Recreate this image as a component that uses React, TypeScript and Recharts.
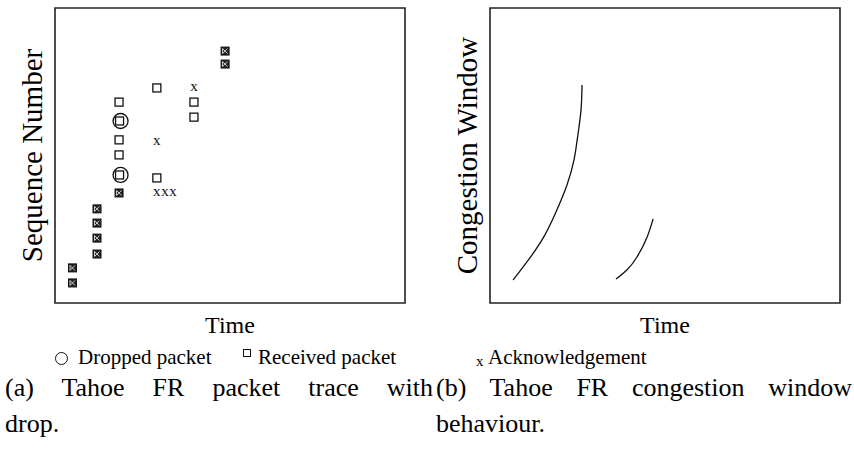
import React from 'react';
import {
  ScatterChart,
  Scatter,
  LineChart,
  Line,
  XAxis,
  YAxis,
  ReferenceArea,
} from 'recharts';

const SERIF = '"Liberation Serif", "Times New Roman", serif';

// (a) packet trace: time vs sequence number (both in arbitrary 0-100 units)
const ackedPackets = [
  { t: 5, seq: 6.8 },
  { t: 5, seq: 11.9 },
  { t: 12, seq: 16.6 },
  { t: 12, seq: 22 },
  { t: 12, seq: 27.1 },
  { t: 12, seq: 31.9 },
  { t: 18.3, seq: 37.3 },
  { t: 48.6, seq: 81 },
  { t: 48.6, seq: 85.4 },
];

const receivedPackets = [
  { t: 18.3, seq: 50.2 },
  { t: 18.3, seq: 55.3 },
  { t: 18.3, seq: 68.1 },
  { t: 29.1, seq: 42.4 },
  { t: 29.1, seq: 72.9 },
  { t: 39.7, seq: 63 },
  { t: 39.7, seq: 68.1 },
];

const droppedPackets = [
  { t: 18.3, seq: 43.4 },
  { t: 18.3, seq: 61.7 },
];

const acks = [
  { t: 29.1, seq: 37.3 },
  { t: 31.4, seq: 37.3 },
  { t: 33.7, seq: 37.3 },
  { t: 29.1, seq: 54.9 },
  { t: 39.7, seq: 72.9 },
];

// (b) congestion window: two growth phases
const cwndFirst = [
  { t: 6.6, w: 7.8 },
  { t: 11.4, w: 15.3 },
  { t: 15.7, w: 23.1 },
  { t: 19.1, w: 31.5 },
  { t: 22, w: 40 },
  { t: 24, w: 48.5 },
  { t: 25.1, w: 56.9 },
  { t: 26, w: 65.4 },
  { t: 26.3, w: 73.9 },
];

const cwndSecond = [
  { t: 36, w: 8.1 },
  { t: 39.1, w: 11.2 },
  { t: 42, w: 15.6 },
  { t: 44.9, w: 22.4 },
  { t: 46.6, w: 28.5 },
];

const INK = '#111';

const ReceivedMark = ({ cx, cy }: any) => (
  <rect x={cx - 4} y={cy - 4} width={8} height={8} fill="#fff" stroke={INK} strokeWidth={1.3} />
);

const AckedMark = ({ cx, cy }: any) => (
  <g>
    <rect x={cx - 4} y={cy - 4} width={8} height={8} fill="#222" stroke={INK} strokeWidth={1} />
    <path
      d={`M${cx - 2.5},${cy - 2.5} L${cx + 2.5},${cy + 2.5} M${cx + 2.5},${cy - 2.5} L${cx - 2.5},${cy + 2.5} M${cx - 2.5},${cy - 2.5} V${cy + 2.5}`}
      stroke="#ddd"
      strokeWidth={0.9}
    />
  </g>
);

const DroppedMark = ({ cx, cy }: any) => (
  <g>
    <circle cx={cx + 1.5} cy={cy} r={7.5} fill="none" stroke={INK} strokeWidth={1.3} />
    <rect x={cx - 3.5} y={cy - 4} width={8} height={8} fill="#fff" stroke={INK} strokeWidth={1.3} />
  </g>
);

const AckMark = ({ cx, cy }: any) => (
  <text x={cx} y={cy + 3.5} textAnchor="middle" fontSize={15} fontFamily={SERIF} fill={INK}>
    x
  </text>
);

const xTitle = { fill: '#000', fontSize: 24, fontFamily: SERIF };
const yTitle = { fill: '#000', fontSize: 29, fontFamily: SERIF };

const CHART_W = 410;
const CHART_H = 340;

function TraceChart() {
  return (
    <ScatterChart width={CHART_W} height={CHART_H} margin={{ top: 8, right: 5, left: 0, bottom: 0 }}>
      <XAxis
        type="number"
        dataKey="t"
        domain={[0, 100]}
        tick={false}
        tickLine={false}
        axisLine={false}
        height={37}
        label={{ value: 'Time', position: 'insideBottom', offset: 7, ...xTitle }}
      />
      <YAxis
        type="number"
        dataKey="seq"
        domain={[0, 100]}
        tick={false}
        tickLine={false}
        axisLine={false}
        width={55}
        label={{
          value: 'Sequence Number',
          angle: -90,
          position: 'insideLeft',
          offset: 32,
          style: { textAnchor: 'middle' },
          ...yTitle,
        }}
      />
      <ReferenceArea x1={0} x2={100} y1={0} y2={100} fill="none" fillOpacity={0} stroke="#222" strokeWidth={1.6} />
      <Scatter data={ackedPackets} shape={(p: any) => <AckedMark {...p} />} isAnimationActive={false} />
      <Scatter data={receivedPackets} shape={(p: any) => <ReceivedMark {...p} />} isAnimationActive={false} />
      <Scatter data={droppedPackets} shape={(p: any) => <DroppedMark {...p} />} isAnimationActive={false} />
      <Scatter data={acks} shape={(p: any) => <AckMark {...p} />} isAnimationActive={false} />
    </ScatterChart>
  );
}

function CwndChart() {
  return (
    <LineChart width={CHART_W} height={CHART_H} margin={{ top: 8, right: 5, left: 0, bottom: 0 }}>
      <XAxis
        type="number"
        dataKey="t"
        domain={[0, 100]}
        tick={false}
        tickLine={false}
        axisLine={false}
        height={37}
        label={{ value: 'Time', position: 'insideBottom', offset: 7, ...xTitle }}
      />
      <YAxis
        type="number"
        dataKey="w"
        domain={[0, 100]}
        tick={false}
        tickLine={false}
        axisLine={false}
        width={55}
        label={{
          value: 'Congestion Window',
          angle: -90,
          position: 'insideLeft',
          offset: 32,
          style: { textAnchor: 'middle' },
          ...yTitle,
        }}
      />
      <ReferenceArea x1={0} x2={100} y1={0} y2={100} fill="none" fillOpacity={0} stroke="#222" strokeWidth={1.6} />
      <Line data={cwndFirst} dataKey="w" type="natural" stroke={INK} strokeWidth={1.3} dot={false} isAnimationActive={false} />
      <Line data={cwndSecond} dataKey="w" type="natural" stroke={INK} strokeWidth={1.3} dot={false} isAnimationActive={false} />
    </LineChart>
  );
}

const legendText: React.CSSProperties = {
  position: 'absolute',
  top: 347,
  fontFamily: SERIF,
  fontSize: 21,
  lineHeight: '21px',
  whiteSpace: 'nowrap',
};

const captionLine: React.CSSProperties = {
  position: 'absolute',
  fontFamily: SERIF,
  fontSize: 26,
  lineHeight: '26px',
  whiteSpace: 'nowrap',
};

export default function App() {
  return (
    <div style={{ position: 'absolute', left: 0, top: 0, width: 854, height: 451, background: '#fff', overflow: 'hidden' }}>
      <div style={{ position: 'absolute', left: 0, top: 0 }}>
        <TraceChart />
      </div>
      <div style={{ position: 'absolute', left: 435, top: 0 }}>
        <CwndChart />
      </div>

      {/* legend */}
      <div
        style={{
          position: 'absolute',
          left: 55,
          top: 352,
          width: 11,
          height: 11,
          border: '1.3px solid #111',
          borderRadius: '50%',
        }}
      />
      <div style={{ ...legendText, left: 78 }}>Dropped packet</div>
      <div style={{ position: 'absolute', left: 243, top: 349, width: 6, height: 6, border: '1.3px solid #111' }} />
      <div style={{ ...legendText, left: 258 }}>Received packet</div>
      <div style={{ ...legendText, left: 476, fontSize: 15 }}>
        <span style={{ position: 'relative', top: 4 }}>x</span>
      </div>
      <div style={{ ...legendText, left: 488 }}>Acknowledgement</div>

      {/* captions */}
      <div style={{ ...captionLine, left: 5, top: 375, width: 428, whiteSpace: 'normal', textAlign: 'justify', textAlignLast: 'justify' }}>
        (a) Tahoe FR packet trace with
      </div>
      <div style={{ ...captionLine, left: 5, top: 411 }}>drop.</div>
      <div style={{ ...captionLine, left: 436, top: 375, width: 416, whiteSpace: 'normal', textAlign: 'justify', textAlignLast: 'justify' }}>
        (b) Tahoe FR congestion window
      </div>
      <div style={{ ...captionLine, left: 436, top: 411 }}>behaviour.</div>
    </div>
  );
}
